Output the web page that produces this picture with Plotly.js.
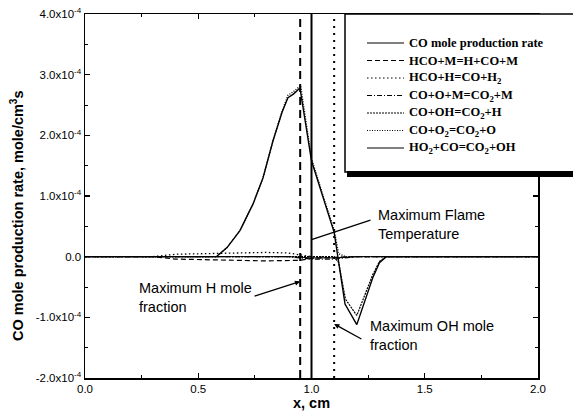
<!DOCTYPE html>
<html>
<head>
<meta charset="utf-8">
<script src="https://cdn.plot.ly/plotly-3.0.1.min.js"></script>
<style>html,body{margin:0;padding:0;background:#fff;}#chart{width:573px;height:418px;}</style>
</head>
<body>
<div id="chart"></div>
<script>
// ---- data (rates in units of 1e-4 mole/cm^3 s) ----
const seriesNames = [
  "CO mole production rate",
  "HCO+M=H+CO+M",
  "HCO+H=CO+H<sub>2</sub>",
  "CO+O+M=CO<sub>2</sub>+M",
  "CO+OH=CO<sub>2</sub>+H",
  "CO+O<sub>2</sub>=CO<sub>2</sub>+O",
  "HO<sub>2</sub>+CO=CO<sub>2</sub>+OH"
];
const xTotal = [0, 0.55, 0.58, 0.627, 0.684, 0.742, 0.786, 0.83, 0.87, 0.896, 0.92, 0.949, 1.0, 1.1, 1.117, 1.148, 1.2, 1.27, 1.3, 1.33, 2.0];
const yTotal = [0, 0, 0, 0.15, 0.43, 0.87, 1.30, 1.91, 2.38, 2.62, 2.68, 2.78, 1.58, 0.40, 0, -0.78, -1.12, -0.35, -0.10, 0, 0];
const xHCOM = [0, 0.3, 0.4, 0.6, 0.8, 0.95, 1.0, 1.1, 1.2, 2.0];
const yHCOM = [0, 0, -0.04, -0.06, -0.07, -0.06, -0.03, -0.01, 0, 0];
const xHCOH = [0, 0.3, 0.4, 0.6, 0.8, 0.9, 0.95, 1.0, 1.1, 1.2, 2.0];
const yHCOH = [0, 0, 0.04, 0.06, 0.07, 0.06, 0.03, 0.0, -0.02, 0, 0];
const xCOOM = [0, 0.9, 0.95, 1.0, 1.1, 1.15, 1.2, 2.0];
const yCOOM = [0, 0, -0.02, -0.04, -0.04, -0.02, 0, 0];
const xCOOH = [0, 1.1, 1.12, 1.15, 1.2, 1.27, 1.3, 1.33, 2.0];
const yCOOH = [0, 0, -0.1, -0.7, -0.97, -0.3, -0.08, 0, 0];
const xCOO2 = [0, 0.55, 0.58, 0.627, 0.684, 0.742, 0.786, 0.83, 0.87, 0.896, 0.92, 0.952, 1.0, 1.05, 1.1, 1.12, 1.15, 2.0];
const yCOO2 = [0, 0, 0, 0.15, 0.43, 0.87, 1.30, 1.91, 2.40, 2.66, 2.72, 2.82, 1.62, 1.02, 0.44, 0.05, 0, 0];
const xHO2CO = [0, 0.9, 1.0, 1.1, 1.2, 2.0];
const yHO2CO = [0, 0, -0.02, -0.02, 0, 0];

const markerX = [0.95, 1.0, 1.1];          // max H, max flame T, max OH
const yRange = [-2, 4];
const xTickVals = [0, 0.5, 1.0, 1.5, 2.0];
const xTickText = ["0.0", "0.5", "1.0", "1.5", "2.0"];
const yTickVals = [-2, -1, 0, 1, 2, 3, 4];
const yTickText = ["-2.0x10<sup>-4</sup>", "-1.0x10<sup>-4</sup>", "0.0", "1.0x10<sup>-4</sup>", "2.0x10<sup>-4</sup>", "3.0x10<sup>-4</sup>", "4.0x10<sup>-4</sup>"];
const noteTexts = ["Maximum Flame<br>Temperature", "Maximum H mole<br>fraction", "Maximum OH mole<br>fraction"];
const xTitle = "x, cm";
const yTitle = "CO mole production rate, mole/cm<sup>3</sup>s";

// ---- styles ----
const styles = [
  {dash: "solid", width: 1.4},
  {dash: "5px,3px", width: 1.2},
  {dash: "1.5px,2.5px", width: 1.3},
  {dash: "5px,2px,1px,2px", width: 1.2},
  {dash: "2px,1px", width: 1.2},
  {dash: "1px,1.5px", width: 1.3},
  {dash: "solid", width: 1}
];
const xsAll = [xTotal, xHCOM, xHCOH, xCOOM, xCOOH, xCOO2, xHO2CO];
const ysAll = [yTotal, yHCOM, yHCOH, yCOOM, yCOOH, yCOO2, yHO2CO];

const traces = [];
for (let i = xsAll.length - 1; i >= 0; i--) {
  traces.push({x: xsAll[i], y: ysAll[i], mode: "lines", name: seriesNames[i],
    line: {color: "#000", width: styles[i].width, dash: styles[i].dash}, showlegend: false, hoverinfo: "skip"});
}
const vStyles = [{dash: "8px,5px", width: 2}, {dash: "solid", width: 2}, {dash: "2px,5px", width: 2}];
markerX.forEach((mx, i) => {
  traces.push({x: [mx, mx], y: yRange, mode: "lines", showlegend: false, hoverinfo: "skip",
    line: {color: "#000", width: vStyles[i].width, dash: vStyles[i].dash}});
});

// ---- layout geometry ----
const L = 85, T = 14, W = 453, H = 364;
const px2x = p => (p - L) / W;
const py2y = p => (T + H - p) / H;

const shapes = [
  {type: "rect", xref: "paper", yref: "paper", x0: px2x(345), x1: px2x(600), y0: py2y(172), y1: py2y(14),
   line: {color: "#000", width: 1.5}, fillcolor: "#fff", layer: "above"},
  {type: "rect", xref: "paper", yref: "paper", x0: px2x(347), x1: px2x(600), y0: py2y(177), y1: py2y(171),
   line: {width: 0}, fillcolor: "#000", layer: "above"}
];
const annotations = [];
seriesNames.forEach((nm, i) => {
  const yy = py2y(43 + 17.5 * i);
  shapes.push({type: "line", xref: "paper", yref: "paper", x0: px2x(367), x1: px2x(404), y0: yy, y1: yy,
    line: {color: "#000", width: 1, dash: styles[i].dash}, layer: "above"});
  annotations.push({xref: "paper", yref: "paper", x: px2x(407), y: yy, xanchor: "left", yanchor: "middle",
    text: "<b>" + nm + "</b>", showarrow: false,
    font: {family: "Liberation Serif, Times New Roman, serif", size: 12.5, color: "#000"}});
});

const noteFont = {family: "Liberation Sans, Arial, sans-serif", size: 14.5, color: "#000"};
annotations.push({xref: "x", yref: "y", x: (376 - L) / 226.5, y: (256 - 224) / 60.6, xanchor: "left", yanchor: "middle",
  text: noteTexts[0], showarrow: false, font: noteFont, align: "left"});
annotations.push({xref: "x", yref: "y", x: (137 - L) / 226.5, y: (256 - 297) / 60.6, xanchor: "left", yanchor: "middle",
  text: noteTexts[1], showarrow: false, font: noteFont, align: "left"});
annotations.push({xref: "x", yref: "y", x: (368 - L) / 226.5, y: (256 - 335) / 60.6, xanchor: "left", yanchor: "middle",
  text: noteTexts[2], showarrow: false, font: noteFont, align: "left"});
// pointers
annotations.push({xref: "x", yref: "y", axref: "x", ayref: "y", x: markerX[1], y: 0.28, ax: 1.267, ay: 0.61,
  text: "", showarrow: true, arrowhead: 0, arrowwidth: 1.3, arrowcolor: "#000"});
annotations.push({xref: "x", yref: "y", axref: "x", ayref: "y", x: markerX[0], y: -0.41, ax: 0.742, ay: -0.66,
  text: "", showarrow: true, arrowhead: 2, arrowsize: 0.8, arrowwidth: 1.3, arrowcolor: "#000"});
annotations.push({xref: "x", yref: "y", axref: "x", ayref: "y", x: markerX[2], y: -1.11, ax: 1.227, ay: -1.37,
  text: "", showarrow: true, arrowhead: 2, arrowsize: 0.8, arrowwidth: 1.3, arrowcolor: "#000"});
// y-axis title
annotations.push({xref: "paper", yref: "paper", x: px2x(17), y: py2y(216), xanchor: "center", yanchor: "middle",
  textangle: -90, text: "<b>" + yTitle + "</b>", showarrow: false,
  font: {family: "Liberation Sans, Arial, sans-serif", size: 14.5, color: "#000"}});

const tickFont = {family: "Liberation Sans, Arial, sans-serif", size: 11.5, color: "#000"};
const layout = {
  width: 573, height: 418,
  margin: {l: L, r: 573 - L - W, t: T, b: 418 - T - H},
  paper_bgcolor: "#fff", plot_bgcolor: "#fff",
  showlegend: false,
  xaxis: {range: [0, 2], tickvals: xTickVals, ticktext: xTickText, ticks: "inside", ticklen: 5, tickwidth: 1.2,
    tickcolor: "#000", showline: true, linecolor: "#000", linewidth: 1.5, mirror: "ticks", showgrid: false, zeroline: false,
    tickfont: tickFont,
    minor: {ticks: "inside", ticklen: 3, dtick: 0.25, tickcolor: "#000", tickwidth: 1, showgrid: false},
    title: {text: "<b>" + xTitle + "</b>", font: {family: "Liberation Sans, Arial, sans-serif", size: 14.5, color: "#000"}, standoff: 3}},
  yaxis: {range: yRange, tickvals: yTickVals, ticktext: yTickText, ticks: "inside", ticklen: 5, tickwidth: 1.2,
    tickcolor: "#000", showline: true, linecolor: "#000", linewidth: 1.5, mirror: "ticks", showgrid: false, zeroline: false,
    tickfont: tickFont,
    minor: {ticks: "inside", ticklen: 3, dtick: 0.5, tickcolor: "#000", tickwidth: 1, showgrid: false}},
  shapes: shapes,
  annotations: annotations
};
Plotly.newPlot("chart", traces, layout, {staticPlot: true, displayModeBar: false});
</script>
</body>
</html>
